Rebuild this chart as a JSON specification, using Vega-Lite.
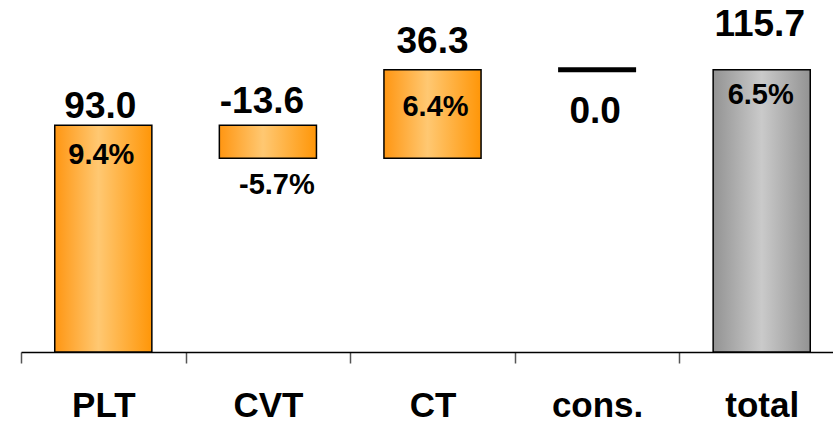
{
  "$schema": "https://vega.github.io/schema/vega-lite/v6.json",
  "width": 812,
  "height": 352,
  "autosize": {"type": "none"},
  "padding": {"left": 21, "top": 0, "right": 0, "bottom": 73},
  "background": "white",
  "config": {
    "view": {"stroke": null},
    "font": "Liberation Sans",
    "text": {"font": "Liberation Sans", "fontWeight": "bold", "color": "black", "baseline": "alphabetic", "align": "center"}
  },
  "data": {
    "values": [
      {"cat": "PLT", "start": 0, "end": 93.0, "label": "93.0", "pct": "9.4%", "kind": "orange"},
      {"cat": "CVT", "start": 93.0, "end": 79.4, "label": "-13.6", "pct": "-5.7%", "kind": "orange"},
      {"cat": "CT", "start": 79.4, "end": 115.7, "label": "36.3", "pct": "6.4%", "kind": "orange"},
      {"cat": "cons.", "start": 115.7, "end": 115.7, "label": "0.0", "pct": "", "kind": "line"},
      {"cat": "total", "start": 0, "end": 115.7, "label": "115.7", "pct": "6.5%", "kind": "gray"}
    ]
  },
  "encoding": {
    "x": {
      "field": "cat",
      "type": "nominal",
      "sort": ["PLT", "CVT", "CT", "cons.", "total"],
      "scale": {"paddingInner": 0, "paddingOuter": 0, "range": [0, 823]},
      "axis": {
        "title": null,
        "labelAngle": 0,
        "labelFont": "Liberation Sans",
        "labelFontWeight": "bold",
        "labelFontSize": 35,
        "labelColor": "black",
        "labelBaseline": "alphabetic",
        "labelPadding": 53,
        "tickSize": 11,
        "tickColor": "#555555",
        "tickWidth": 1.5,
        "tickBand": "extent",
        "domainColor": "black",
        "domainWidth": 1.5,
        "grid": false
      }
    }
  },
  "layer": [
    {
      "transform": [{"filter": "datum.kind == 'orange'"}],
      "mark": {
        "type": "bar",
        "width": {"band": 0.59},
        "stroke": "black",
        "strokeWidth": 1.5,
        "fill": {
          "gradient": "linear", "x1": 0, "y1": 0, "x2": 1, "y2": 0,
          "stops": [
            {"offset": 0, "color": "#FF9612"},
            {"offset": 0.45, "color": "#FFC872"},
            {"offset": 1, "color": "#FF9608"}
          ]
        }
      },
      "encoding": {
        "y": {"field": "start", "type": "quantitative", "scale": {"domain": [0, 144.3], "nice": false, "zero": true}, "axis": null},
        "y2": {"field": "end"}
      }
    },
    {
      "transform": [{"filter": "datum.kind == 'gray'"}],
      "mark": {
        "type": "bar",
        "width": {"band": 0.59},
        "stroke": "black",
        "strokeWidth": 1.5,
        "fill": {
          "gradient": "linear", "x1": 0, "y1": 0, "x2": 1, "y2": 0,
          "stops": [
            {"offset": 0, "color": "#939393"},
            {"offset": 0.5, "color": "#CACACA"},
            {"offset": 1, "color": "#939393"}
          ]
        }
      },
      "encoding": {
        "y": {"field": "start", "type": "quantitative"},
        "y2": {"field": "end"}
      }
    },
    {
      "transform": [{"filter": "datum.kind == 'line'"}],
      "mark": {"type": "tick", "color": "black", "thickness": 5, "size": 78, "opacity": 1},
      "encoding": {
        "y": {"field": "end", "type": "quantitative"}
      }
    },
    {
      "transform": [{"filter": "datum.cat == 'PLT'"}],
      "mark": {"type": "text", "fontSize": 37, "dx": -3, "dy": -7},
      "encoding": {"y": {"field": "end", "type": "quantitative"}, "text": {"field": "label"}}
    },
    {
      "transform": [{"filter": "datum.cat == 'CVT'"}],
      "mark": {"type": "text", "fontSize": 37, "dx": -6, "dy": -12},
      "encoding": {"y": {"field": "start", "type": "quantitative"}, "text": {"field": "label"}}
    },
    {
      "transform": [{"filter": "datum.cat == 'CT'"}],
      "mark": {"type": "text", "fontSize": 37, "dx": 0, "dy": -17},
      "encoding": {"y": {"field": "end", "type": "quantitative"}, "text": {"field": "label"}}
    },
    {
      "transform": [{"filter": "datum.cat == 'cons.'"}],
      "mark": {"type": "text", "fontSize": 37, "dx": -2, "dy": 53},
      "encoding": {"y": {"field": "end", "type": "quantitative"}, "text": {"field": "label"}}
    },
    {
      "transform": [{"filter": "datum.cat == 'total'"}],
      "mark": {"type": "text", "fontSize": 37, "dx": -2, "dy": -34},
      "encoding": {"y": {"field": "end", "type": "quantitative"}, "text": {"field": "label"}}
    },
    {
      "transform": [{"filter": "datum.cat == 'PLT'"}],
      "mark": {"type": "text", "fontSize": 29, "dx": -2, "dy": 39},
      "encoding": {"y": {"field": "end", "type": "quantitative"}, "text": {"field": "pct"}}
    },
    {
      "transform": [{"filter": "datum.cat == 'CVT'"}],
      "mark": {"type": "text", "fontSize": 29, "dx": 9, "dy": 36},
      "encoding": {"y": {"field": "end", "type": "quantitative"}, "text": {"field": "pct"}}
    },
    {
      "transform": [{"filter": "datum.cat == 'CT'"}],
      "mark": {"type": "text", "fontSize": 29, "dx": 3, "dy": 46},
      "encoding": {"y": {"field": "end", "type": "quantitative"}, "text": {"field": "pct"}}
    },
    {
      "transform": [{"filter": "datum.cat == 'total'"}],
      "mark": {"type": "text", "fontSize": 29, "dx": -1, "dy": 34},
      "encoding": {"y": {"field": "end", "type": "quantitative"}, "text": {"field": "pct"}}
    }
  ]
}
